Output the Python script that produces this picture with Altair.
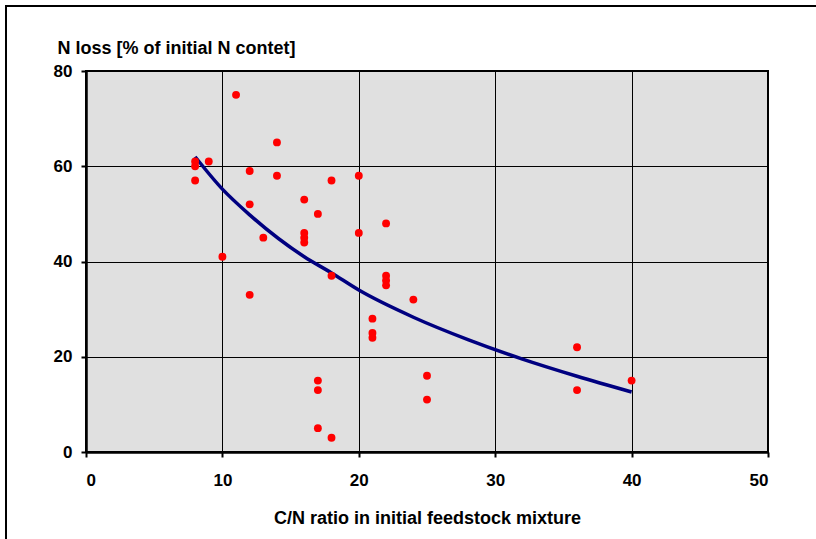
import altair as alt
import pandas as pd

cn_ratio = [8, 8, 8, 9, 10, 11, 12, 12, 12, 13, 14, 14, 16, 16, 16, 16, 17, 17, 17, 17,
            18, 18, 18, 20, 20, 21, 21, 21, 22, 22, 22, 22, 24, 25, 25, 36, 36, 40]
n_loss = [61, 60, 57, 61, 41, 75, 59, 52, 33, 45, 65, 58, 53, 46, 45, 44, 50, 15, 13, 5,
          57, 37, 3, 58, 46, 28, 25, 24, 48, 37, 36, 35, 32, 16, 11, 22, 13, 15]

# exponential trendline, values
trend_x = [8, 10, 12, 16, 18, 20, 24, 28, 32, 36, 40]
trend_y = [62, 55.2, 49.8, 41, 37.6, 34, 28.3, 23.6, 19.5, 15.9, 12.6]

x_ticks = [0, 10, 20, 30, 40, 50]
y_ticks = [0, 20, 40, 60, 80]

df = pd.DataFrame({"cn": cn_ratio, "loss": n_loss})
df_trend = pd.DataFrame({"cn": trend_x, "loss": trend_y})

FONT = "Liberation Sans"

x_enc = alt.X(
    "cn:Q",
    scale=alt.Scale(domain=[0, 50], nice=False, zero=False),
    axis=alt.Axis(
        values=x_ticks, format="d", title="C/N ratio in initial feedstock mixture",
        titleY=57, titleBaseline="top", titleFontSize=18, titleFont=FONT, titleFontWeight="bold",
        labelFont=FONT, labelFontSize=17, labelFontWeight="bold", labelPadding=15,
        labelColor="black", titleColor="black",
        tickSize=5, tickColor="black", tickWidth=2,
        domainColor="black", domainWidth=2.5,
        grid=True, gridColor="black", gridWidth=1,
    ),
)
y_enc = alt.Y(
    "loss:Q",
    scale=alt.Scale(domain=[0, 80], nice=False, zero=False),
    axis=alt.Axis(
        values=y_ticks, format="d", title="N loss [% of initial N contet]",
        titleAngle=0, titleX=-29, titleY=-18, titleAlign="left", titleBaseline="alphabetic",
        titleFontSize=18, titleFont=FONT, titleFontWeight="bold",
        labelFont=FONT, labelFontSize=17, labelFontWeight="bold", labelPadding=9,
        labelColor="black", titleColor="black",
        tickSize=5, tickColor="black", tickWidth=2,
        domainColor="black", domainWidth=2.5,
        grid=True, gridColor="black", gridWidth=1,
    ),
)

points = alt.Chart(df).mark_circle(color="#FF0000", size=62, opacity=1).encode(x=x_enc, y=y_enc)

trend = alt.Chart(df_trend).mark_line(
    color="#000080", strokeWidth=3.5, interpolate="monotone"
).encode(x=x_enc, y=y_enc)

frame = alt.Chart(alt.Data(values=[{}])).mark_rect(
    fill=None, stroke="black", strokeWidth=2, clip=False
).encode(
    x=alt.value(-80), x2=alt.value(800), y=alt.value(-65), y2=alt.value(600)
)

chart = alt.layer(trend, points, frame).properties(
    width=682, height=381,
    autosize=alt.AutoSizeParams(type="none"),
    padding={"left": 86, "top": 71, "right": 48, "bottom": 87},
    background="white",
).configure_view(
    fill="#E0E0E0", stroke="black", strokeWidth=2
)

chart.save("out.html", embed_options={"renderer": "svg", "actions": False})
